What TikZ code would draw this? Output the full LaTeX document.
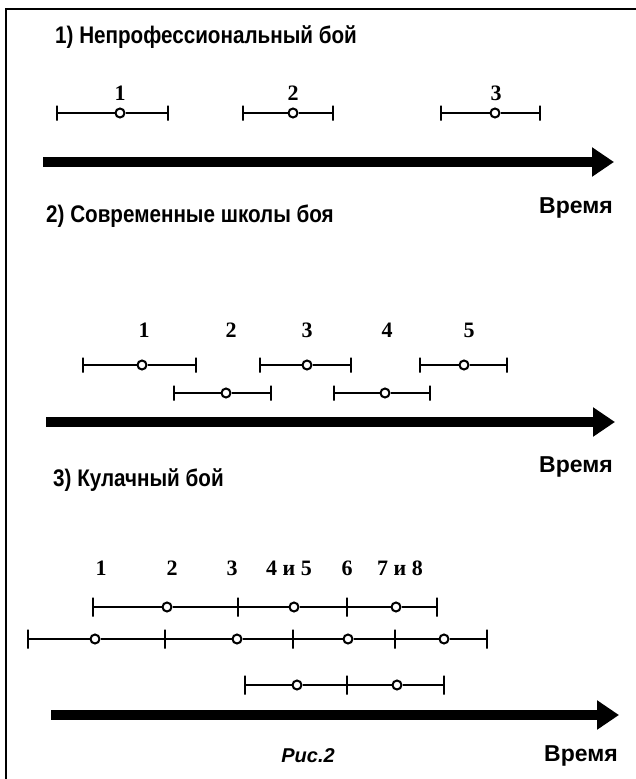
\documentclass[tikz,border=0pt]{standalone}
\usepackage{fontspec}
\setmainfont{Liberation Sans}
\newfontfamily\numserif{Liberation Serif}
\newfontfamily\narrowsans[FakeStretch=0.86]{Liberation Sans}
\usetikzlibrary{arrows.meta, positioning}

\begin{document}
\begin{tikzpicture}[
    x=1pt, y=-1pt,
    heading/.style={anchor=base west, inner sep=0pt, font=\fontsize{24}{28}\selectfont\narrowsans\bfseries},
    timelabel/.style={anchor=base east, inner sep=0pt, font=\fontsize{23}{27}\selectfont\bfseries},
    num/.style={anchor=base, inner sep=0pt, font=\fontsize{22}{26}\selectfont\numserif\bfseries},
    endbar/.style={draw, line width=2.4pt, minimum width=0pt, minimum height=15pt, inner sep=0pt},
    longbar/.style={endbar, minimum height=19pt},
    ctr/.style={draw, circle, fill=white, line width=2pt, minimum size=9pt, inner sep=0pt},
    interval/.style={line width=2.4pt},
    timeaxis/.style={-{Triangle[length=22pt, width=28pt]}, line width=10pt},
    frameline/.style={line width=2.5pt}
]
    \useasboundingbox (0,0) rectangle (636,779);
    \draw[frameline] (6,779) -- (6,9) -- (636,9);

    % 1) amateur fight
    \node[heading] (head1) at (55,43) {1) Непрофессиональный бой};
    \node[num] (an1) at (120,100) {1};
    \node[num] (an2) at (293,100) {2};
    \node[num] (an3) at (496,100) {3};

    \node[endbar] (a1l) at (57,113) {};
    \node[ctr] (a1c) at (120,113) {};
    \node[endbar] (a1r) at (168,113) {};
    \node[endbar] (a2l) at (243,113) {};
    \node[ctr] (a2c) at (293,113) {};
    \node[endbar] (a2r) at (333,113) {};
    \node[endbar] (a3l) at (441,113) {};
    \node[ctr] (a3c) at (495,113) {};
    \node[endbar] (a3r) at (540,113) {};

    \draw[interval] (a1l) -- (a1c) -- (a1r);
    \draw[interval] (a2l) -- (a2c) -- (a2r);
    \draw[interval] (a3l) -- (a3c) -- (a3r);

    \coordinate (ax1s) at (43,162);
    \coordinate (ax1e) at (614,162);
    \draw[timeaxis] (ax1s) -- (ax1e);
    \node[timelabel] (time1) at (613,213) {Время};

    % 2) modern schools
    \node[heading] (head2) at (46,222) {2) Современные школы боя};
    \node[num] (sn1) at (144,337) {1};
    \node[num] (sn2) at (231,337) {2};
    \node[num] (sn3) at (307,337) {3};
    \node[num] (sn4) at (387,337) {4};
    \node[num] (sn5) at (469,337) {5};

    \node[endbar] (s1l) at (83,365) {};
    \node[ctr] (s1c) at (142,365) {};
    \node[endbar] (s1r) at (196,365) {};
    \node[endbar] (s3l) at (260,365) {};
    \node[ctr] (s3c) at (307,365) {};
    \node[endbar] (s3r) at (351,365) {};
    \node[endbar] (s5l) at (420,365) {};
    \node[ctr] (s5c) at (464,365) {};
    \node[endbar] (s5r) at (507,365) {};
    \node[endbar] (s2l) at (174,393) {};
    \node[ctr] (s2c) at (226,393) {};
    \node[endbar] (s2r) at (271,393) {};
    \node[endbar] (s4l) at (334,393) {};
    \node[ctr] (s4c) at (385,393) {};
    \node[endbar] (s4r) at (430,393) {};

    \draw[interval] (s1l) -- (s1c) -- (s1r);
    \draw[interval] (s2l) -- (s2c) -- (s2r);
    \draw[interval] (s3l) -- (s3c) -- (s3r);
    \draw[interval] (s4l) -- (s4c) -- (s4r);
    \draw[interval] (s5l) -- (s5c) -- (s5r);

    \coordinate (ax2s) at (46,422);
    \coordinate (ax2e) at (615,422);
    \draw[timeaxis] (ax2s) -- (ax2e);
    \node[timelabel] (time2) at (613,472) {Время};

    % 3) fist fight
    \node[heading] (head3) at (53,486) {3) Кулачный бой};
    \node[num] (fn1) at (101,575) {1};
    \node[num] (fn2) at (172,575) {2};
    \node[num] (fn3) at (232,575) {3};
    \node[num] (fn45) at (289,575) {4 и 5};
    \node[num] (fn6) at (347,575) {6};
    \node[num] (fn78) at (400,575) {7 и 8};

    % upper row
    \node[longbar] (fa0) at (93,607) {};
    \node[ctr] (fa1c) at (167,607) {};
    \node[longbar] (fa1) at (238,607) {};
    \node[ctr] (fa2c) at (294,607) {};
    \node[longbar] (fa2) at (347,607) {};
    \node[ctr] (fa3c) at (396,607) {};
    \node[longbar] (fa3) at (437,607) {};
    \draw[interval] (fa0) -- (fa1c) -- (fa1) -- (fa2c) -- (fa2) -- (fa3c) -- (fa3);

    % middle row
    \node[longbar] (fb0) at (28,639) {};
    \node[ctr] (fb1c) at (95,639) {};
    \node[longbar] (fb1) at (165,639) {};
    \node[ctr] (fb2c) at (237,639) {};
    \node[longbar] (fb2) at (293,639) {};
    \node[ctr] (fb3c) at (348,639) {};
    \node[longbar] (fb3) at (395,639) {};
    \node[ctr] (fb4c) at (444,639) {};
    \node[longbar] (fb4) at (487,639) {};
    \draw[interval] (fb0) -- (fb1c) -- (fb1) -- (fb2c) -- (fb2) -- (fb3c) -- (fb3) -- (fb4c) -- (fb4);

    % lower row
    \node[longbar] (fc0) at (245,685) {};
    \node[ctr] (fc1c) at (297,685) {};
    \node[longbar] (fc1) at (347,685) {};
    \node[ctr] (fc2c) at (397,685) {};
    \node[longbar] (fc2) at (444,685) {};
    \draw[interval] (fc0) -- (fc1c) -- (fc1) -- (fc2c) -- (fc2);

    \coordinate (ax3s) at (51,715);
    \coordinate (ax3e) at (619,715);
    \draw[timeaxis] (ax3s) -- (ax3e);
    \node[anchor=base, inner sep=0pt, font=\fontsize{20}{24}\selectfont\bfseries\itshape] (caption) at (308,762) {Рис.2};
    \node[timelabel] (time3) at (618,761) {Время};
\end{tikzpicture}
\end{document}
